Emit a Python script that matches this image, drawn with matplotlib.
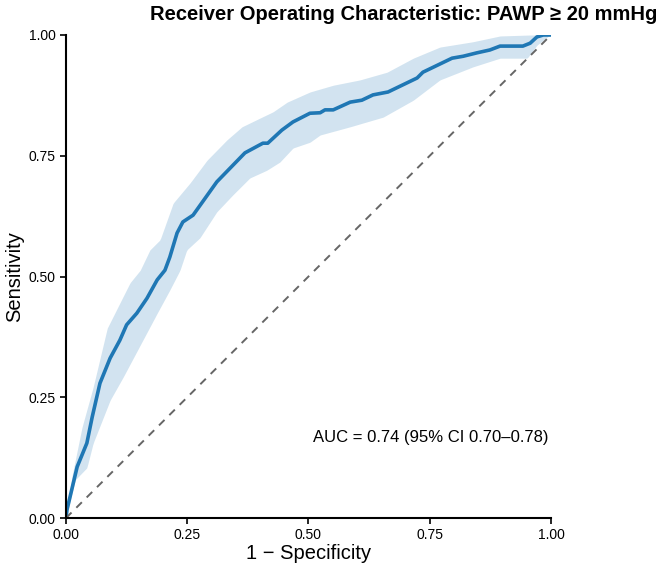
import numpy as np
import matplotlib
matplotlib.use('Agg')
import matplotlib.pyplot as plt

plt.rcParams['font.family'] = ['Liberation Sans', 'DejaVu Sans']

# ROC curve (1 - specificity, sensitivity)
fpr = [0.0, 0.002, 0.023, 0.043, 0.054, 0.070, 0.091, 0.111, 0.125, 0.146, 0.167,
       0.188, 0.204, 0.214, 0.229, 0.241, 0.262, 0.311, 0.369, 0.406, 0.416, 0.445,
       0.468, 0.503, 0.524, 0.534, 0.551, 0.586, 0.610, 0.633, 0.664, 0.724, 0.736,
       0.796, 0.819, 0.847, 0.874, 0.895, 0.942, 0.957, 0.971, 0.984, 1.0]
tpr = [0.0, 0.017, 0.106, 0.155, 0.209, 0.279, 0.331, 0.368, 0.400, 0.424, 0.455,
       0.493, 0.513, 0.540, 0.590, 0.613, 0.627, 0.696, 0.756, 0.776, 0.776, 0.803,
       0.820, 0.838, 0.839, 0.845, 0.845, 0.861, 0.865, 0.876, 0.882, 0.911, 0.923,
       0.952, 0.956, 0.963, 0.969, 0.977, 0.977, 0.983, 0.996, 1.0, 1.0]

# 95% CI band edges
upper_x = [0.0, 0.004, 0.012, 0.033, 0.056, 0.085, 0.111, 0.132, 0.153, 0.173, 0.194,
           0.221, 0.256, 0.291, 0.332, 0.363, 0.400, 0.427, 0.456, 0.503, 0.551, 0.606,
           0.662, 0.716, 0.771, 0.839, 0.895, 0.957, 1.0]
upper_y = [0.0, 0.031, 0.085, 0.188, 0.271, 0.393, 0.445, 0.487, 0.513, 0.555, 0.576,
           0.652, 0.694, 0.741, 0.783, 0.810, 0.828, 0.841, 0.861, 0.882, 0.896, 0.907,
           0.923, 0.952, 0.975, 0.986, 0.998, 1.0, 1.0]
lower_x = [0.0, 0.019, 0.043, 0.056, 0.091, 0.118, 0.153, 0.188, 0.214, 0.235, 0.249,
           0.276, 0.311, 0.344, 0.379, 0.414, 0.441, 0.468, 0.503, 0.524, 0.586, 0.654,
           0.716, 0.771, 0.839, 0.895, 0.951, 0.971, 0.998, 1.0]
lower_y = [0.0, 0.079, 0.104, 0.155, 0.244, 0.292, 0.358, 0.424, 0.472, 0.513, 0.555,
           0.580, 0.634, 0.669, 0.704, 0.720, 0.737, 0.766, 0.778, 0.793, 0.810, 0.830,
           0.865, 0.907, 0.934, 0.952, 0.952, 0.979, 1.0, 1.0]

ticks = [0.0, 0.25, 0.5, 0.75, 1.0]
tick_labels = ['0.00', '0.25', '0.50', '0.75', '1.00']
auc_text = 'AUC = 0.74 (95% CI 0.70\u20130.78)'
title = 'Receiver Operating Characteristic: PAWP \u2265 20 mmHg'

color = '#1f77b4'

fig = plt.figure(figsize=(6.64, 5.69), dpi=100)
ax = fig.add_axes([0.0994, 0.0896, 0.7304, 0.8489])

# band drawn on a common grid
grid = np.linspace(0, 1, 400)
band_hi = np.interp(grid, upper_x, upper_y)
band_lo = np.interp(grid, lower_x, lower_y)
ax.fill_between(grid, band_lo, band_hi, color=color, alpha=0.2, linewidth=0)
ax.plot(fpr, tpr, color=color, linewidth=2.6, solid_capstyle='round')
ax.plot([0, 1], [0, 1], linestyle=(0, (4, 3.5)), color='#666666', linewidth=1.4)

ax.set_xlim(0, 1)
ax.set_ylim(0, 1)
ax.set_xticks(ticks)
ax.set_xticklabels(tick_labels)
ax.set_yticks(ticks)
ax.set_yticklabels(tick_labels)
ax.tick_params(labelsize=10, length=4, width=1.2, colors='black')
for side in ['top', 'right']:
    ax.spines[side].set_visible(False)
for side in ['left', 'bottom']:
    ax.spines[side].set_linewidth(1.5)

ax.set_xlabel('1 \u2212 Specificity', fontsize=14.5, labelpad=1)
ax.set_ylabel('Sensitivity', fontsize=14.5, labelpad=3)
ax.text(0.995, 0.166, auc_text, ha='right', va='center', fontsize=12, transform=ax.transAxes)
fig.text(404 / 664, 1 - 14 / 569, title, ha='center', va='center',
         fontsize=14.5, fontweight='bold')

plt.savefig('out.png', dpi=100)
plt.close()
